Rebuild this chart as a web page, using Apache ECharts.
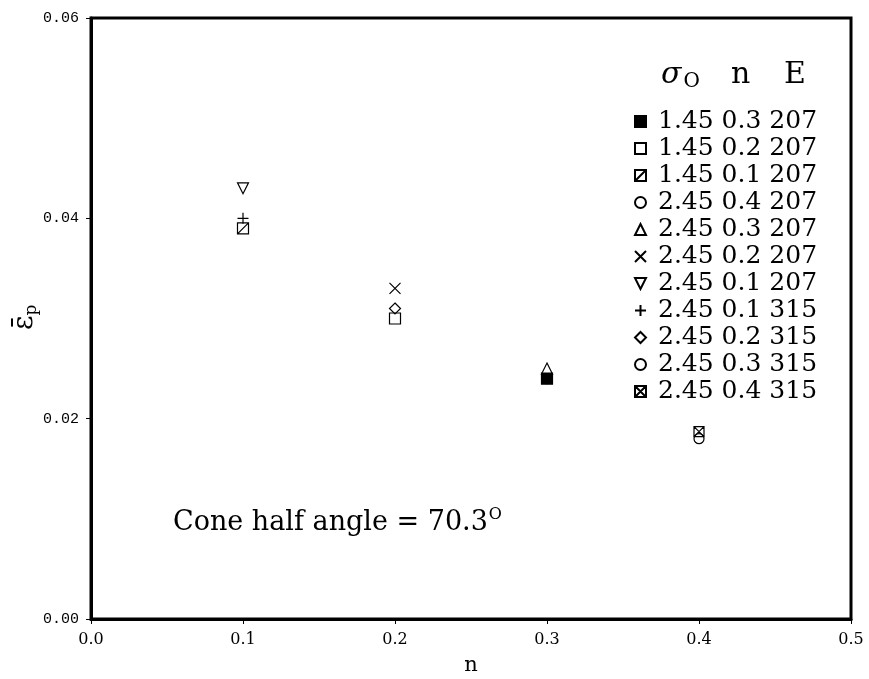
<!DOCTYPE html>
<html>
<head>
<meta charset="utf-8">
<script src="https://cdn.jsdelivr.net/npm/echarts@6/dist/echarts.min.js"></script>
<style>
  html, body { margin: 0; padding: 0; background: #fff; }
  #chart { width: 869px; height: 679px; }
</style>
</head>
<body>
<div id="chart"></div>
<script>
  // legend entries: sigma_o, n, E
  const seriesNames = [
    '1.45 0.3 207', '1.45 0.2 207', '1.45 0.1 207', '2.45 0.4 207',
    '2.45 0.3 207', '2.45 0.2 207', '2.45 0.1 207', '2.45 0.1 315',
    '2.45 0.2 315', '2.45 0.3 315', '2.45 0.4 315'
  ];
  const seriesN = [0.3, 0.2, 0.1, 0.4, 0.3, 0.2, 0.1, 0.1, 0.2, 0.3, 0.4];
  const seriesEps = [0.024, 0.030, 0.039, 0.018, 0.025, 0.033, 0.043, 0.040, 0.031, 0.024, 0.0187];
  const xTicks = [0.0, 0.1, 0.2, 0.3, 0.4, 0.5];
  const yTicks = [0.00, 0.02, 0.04, 0.06];

  // marker shapes
  const symbols = [
    'rect', 'rect',
    'path://M0,0L10,0L10,10L0,10ZM0,10L10,0',
    'circle', 'triangle',
    'path://M0,0L10,10M10,0L0,10',
    'path://M0,0L10,0L5,10Z',
    'path://M5,0L5,10M0,5L10,5',
    'diamond', 'circle',
    'path://M0,0L10,0L10,10L0,10ZM0,0L10,10M10,0L0,10'
  ];
  const filled = [true, false, false, false, false, false, false, false, false, false, false];
  const sizes = [11, 11, 11, 10, 11, 11, 11, 11, 11, 10, 10];

  const chart = echarts.init(document.getElementById('chart'));

  const series = seriesNames.map(function (name, i) {
    return {
      name: name,
      type: 'scatter',
      symbol: symbols[i],
      symbolSize: sizes[i],
      itemStyle: {
        color: filled[i] ? '#000' : 'rgba(0,0,0,0)',
        borderColor: '#000',
        borderWidth: 1.2,
        opacity: 1
      },
      data: [[seriesN[i], seriesEps[i]]]
    };
  });

  const option = {
    animation: false,
    backgroundColor: '#fff',
    grid: {
      left: 91, right: 18, top: 18, bottom: 60,
      outerBoundsMode: 'none',
      containLabel: false,
      show: true,
      borderColor: '#000',
      borderWidth: 3
    },
    xAxis: {
      type: 'value',
      min: xTicks[0],
      max: xTicks[xTicks.length - 1],
      interval: 0.1,
      name: 'n',
      nameLocation: 'middle',
      nameGap: 36,
      nameTextStyle: { fontFamily: 'DejaVu Serif', fontSize: 21, color: '#000' },
      axisLine: { show: true, lineStyle: { color: '#000', width: 3 } },
      axisTick: { show: true, inside: false, length: 5, lineStyle: { color: '#000' } },
      axisLabel: {
        margin: 13,
        fontFamily: 'DejaVu Serif',
        fontSize: 16,
        color: '#000',
        formatter: function (v) { return v.toFixed(1); }
      },
      splitLine: { show: false }
    },
    yAxis: {
      type: 'value',
      min: yTicks[0],
      max: yTicks[yTicks.length - 1],
      interval: 0.02,
      axisLine: { show: true, lineStyle: { color: '#000', width: 3 } },
      axisTick: { show: true, inside: false, length: 5, lineStyle: { color: '#000' } },
      axisLabel: {
        margin: 12,
        fontFamily: 'Liberation Mono',
        fontSize: 15,
        color: '#000',
        formatter: function (v) { return v.toFixed(2); }
      },
      splitLine: { show: false }
    },
    legend: {
      orient: 'vertical',
      left: 629,
      top: 103,
      itemWidth: 11,
      itemHeight: 11,
      itemGap: 0,
      data: seriesNames,
      textStyle: {
        fontFamily: 'DejaVu Serif',
        fontSize: 25,
        color: '#000',
        lineHeight: 27,
        padding: [0, 0, 0, 7]
      }
    },
    graphic: [
      {
        type: 'text',
        left: 661, top: 60,
        style: {
          text: '{s|σ}{o|O}',
          rich: {
            s: { fontFamily: 'DejaVu Serif', fontStyle: 'italic', fontSize: 30, fill: '#000' },
            o: { fontFamily: 'DejaVu Serif', fontSize: 20, fill: '#000', padding: [14, 0, 0, 2] }
          }
        }
      },
      {
        type: 'text',
        left: 731, top: 60,
        style: { text: 'n', font: '30px "DejaVu Serif"', fill: '#000' }
      },
      {
        type: 'text',
        left: 784, top: 60,
        style: { text: 'E', font: '30px "DejaVu Serif"', fill: '#000' }
      },
      {
        type: 'text',
        left: 173, top: 507,
        style: {
          text: '{a|Cone half angle = 70.3}{b|O}',
          rich: {
            a: { fontFamily: 'DejaVu Serif', fontSize: 27, fill: '#000' },
            b: { fontFamily: 'DejaVu Serif', fontSize: 16, fill: '#000', padding: [0, 0, 16, 1] }
          }
        }
      },
      {
        type: 'text',
        x: 9, y: 330,
        rotation: Math.PI / 2,
        style: {
          text: '{e|ε̄}{p|p}',
          rich: {
            e: { fontFamily: 'DejaVu Serif', fontSize: 28, fill: '#000' },
            p: { fontFamily: 'DejaVu Serif', fontSize: 17, fill: '#000', padding: [14, 0, 0, 0] }
          }
        }
      }
    ],
    series: series
  };

  chart.setOption(option);
</script>
</body>
</html>
